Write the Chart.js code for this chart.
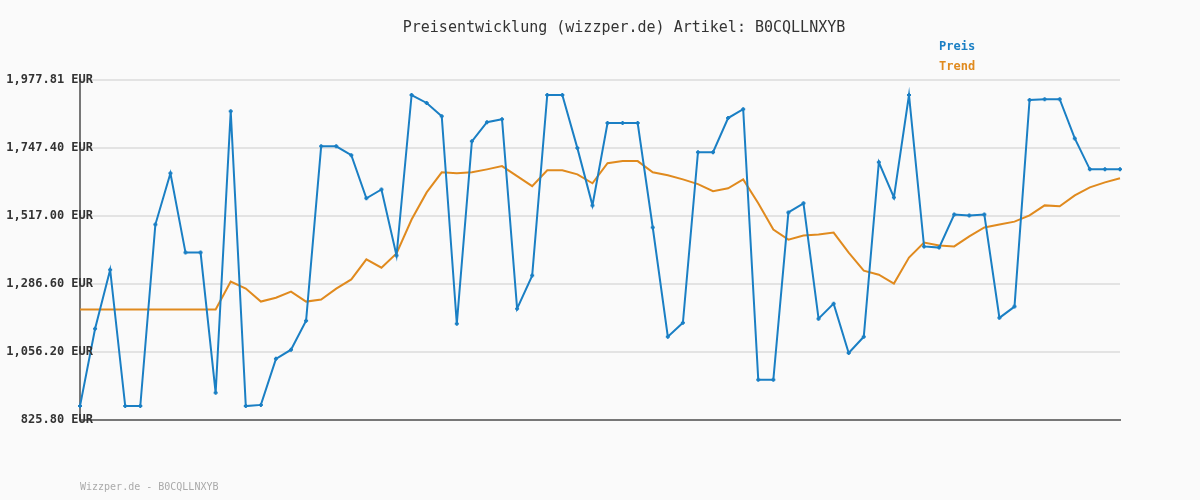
<!DOCTYPE html>
<html>
<head>
<meta charset="utf-8">
<script src="https://cdn.jsdelivr.net/npm/chart.js@4"></script>
<style>
  body { margin: 0; background: #fafafa; }
  #wrap { width: 1200px; height: 500px; }
</style>
</head>
<body>
<div id="wrap"><canvas id="preis-chart"></canvas></div>
<script>
const yTicks = [825.80, 1056.20, 1286.60, 1517.00, 1747.40, 1977.81];

const preis = [873, 1135, 1335, 873, 873, 1488, 1662, 1393, 1393, 918,
    1872, 873, 877, 1033, 1064, 1162, 1753, 1753, 1723, 1577,
    1607, 1383, 1927, 1900, 1855, 1152, 1770, 1835, 1845, 1203,
    1315, 1927, 1927, 1747, 1553, 1832, 1832, 1832, 1478, 1108,
    1155, 1733, 1733, 1849, 1879, 962, 962, 1529, 1560, 1169,
    1220, 1053, 1108, 1699, 1580, 1927, 1414, 1410, 1522, 1519,
    1522, 1172, 1210, 1910, 1913, 1913, 1780, 1675, 1675, 1675];

const trend = [1200, 1200, 1200, 1200, 1200, 1200, 1200, 1200, 1200, 1200,
    1295, 1271, 1227, 1240, 1261, 1227, 1234, 1271, 1302, 1370,
    1342, 1390, 1505, 1597, 1665, 1662, 1665, 1675, 1686, 1652,
    1618, 1672, 1672, 1658, 1628, 1696, 1703, 1703, 1665, 1655,
    1641, 1625, 1601, 1611, 1641, 1560, 1471, 1437, 1451, 1454,
    1461, 1393, 1332, 1318, 1288, 1376, 1427, 1417, 1414, 1448,
    1478, 1488, 1498, 1519, 1553, 1550, 1587, 1614, 1631, 1645];

const labels = preis.map((v, i) => i + 1);
const mono = "'DejaVu Sans Mono', monospace";

function fmt(v) {
    return v.toLocaleString('en-US', { minimumFractionDigits: 2, maximumFractionDigits: 2 }) + ' EUR';
}

// title, legend, y labels and footer text
const textPlugin = {
    id: 'texts',
    afterDraw(chart) {
        const c = chart.ctx;
        const y = chart.scales.y;
        c.save();
        c.textBaseline = 'middle';
        c.font = "15px " + mono;
        c.fillStyle = '#333';
        c.textAlign = 'center';
        c.fillText('Preisentwicklung (wizzper.de) Artikel: B0CQLLNXYB', 624, 28);
        c.font = "bold 12px " + mono;
        c.textAlign = 'right';
        yTicks.forEach(v => c.fillText(fmt(v), 93, y.getPixelForValue(v)));
        c.textAlign = 'left';
        c.fillStyle = '#1a7fc4';
        c.fillText('Preis', 939, 47);
        c.fillStyle = '#e08a1e';
        c.fillText('Trend', 939, 67);
        c.font = "10px " + mono;
        c.fillStyle = '#aaa';
        c.fillText('Wizzper.de - B0CQLLNXYB', 80, 487);
        c.restore();
    }
};

const config = {
    type: 'line',
    data: {
        labels: labels,
        datasets: [{
            label: 'Preis',
            data: preis,
            borderColor: '#1a7fc4',
            backgroundColor: '#1a7fc4',
            borderWidth: 2,
            pointStyle: 'cross',
            pointRadius: 2,
            pointBorderWidth: 2,
            tension: 0
        }, {
            label: 'Trend',
            data: trend,
            borderColor: '#e08a1e',
            borderWidth: 2,
            pointRadius: 0,
            tension: 0
        }]
    },
    options: {
        responsive: true,
        maintainAspectRatio: false,
        animation: false,
        layout: { padding: { top: 80, right: 80, bottom: 80, left: 0 } },
        plugins: {
            legend: { display: false },
            tooltip: { enabled: false }
        },
        scales: {
            x: {
                offset: false,
                ticks: { display: false },
                grid: { display: false },
                border: { color: '#777', width: 2 },
                afterFit: axis => { axis.height = 0; }
            },
            y: {
                min: 825.80,
                max: 1977.81,
                afterBuildTicks: axis => { axis.ticks = yTicks.map(v => ({ value: v })); },
                afterFit: axis => { axis.width = 80; },
                ticks: { display: false },
                grid: { color: '#e3e3e3', lineWidth: 2, drawTicks: false },
                border: { color: '#777', width: 2 }
            }
        }
    },
    plugins: [textPlugin]
};

new Chart(document.getElementById('preis-chart'), config);
</script>
</body>
</html>
